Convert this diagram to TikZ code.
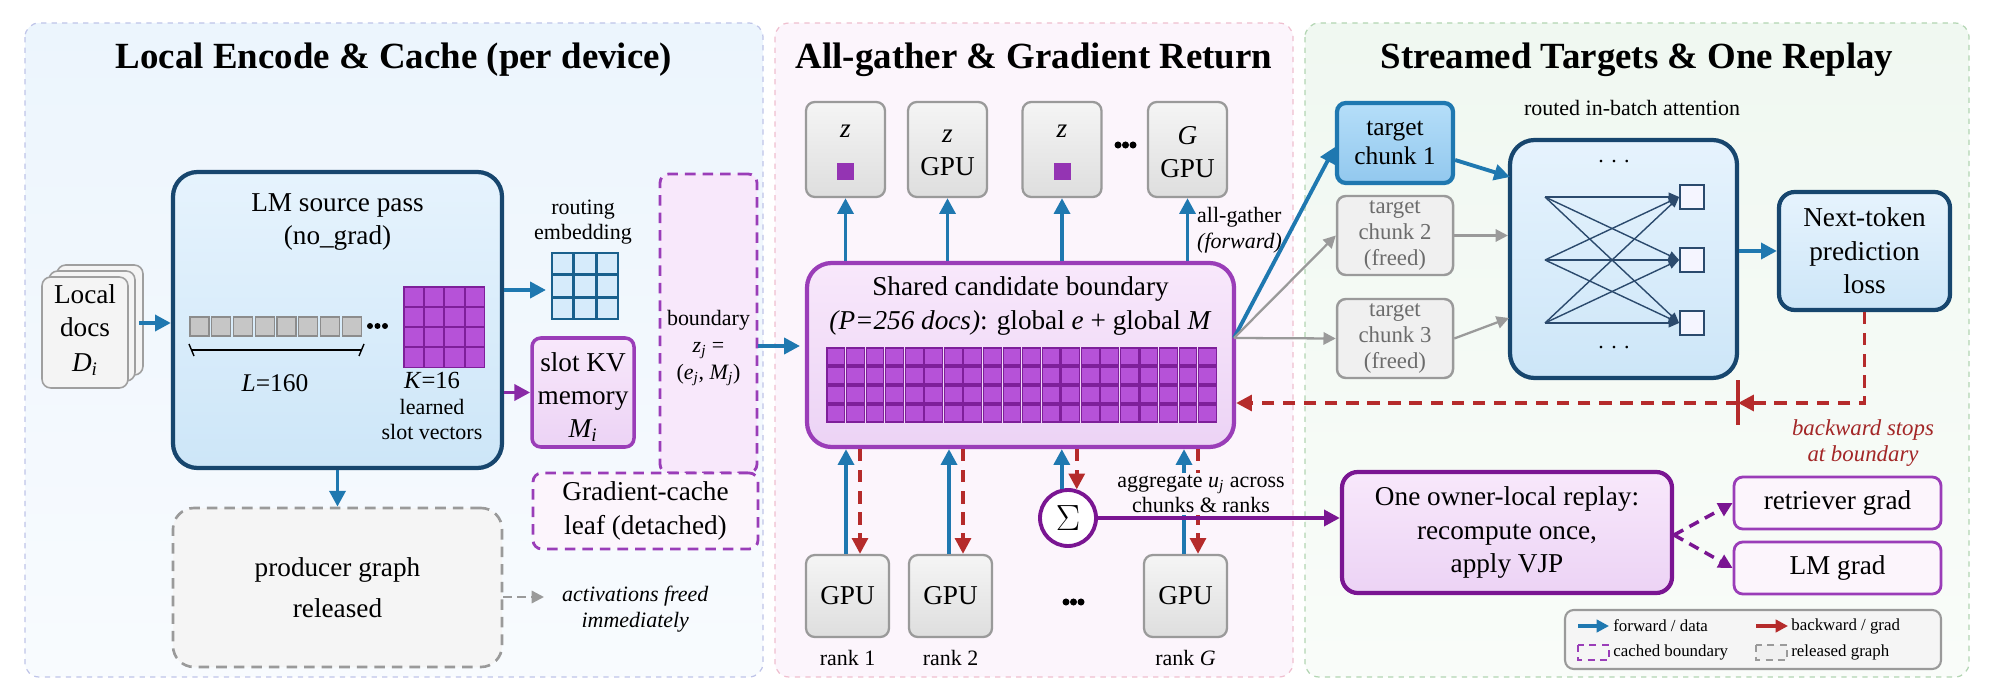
\documentclass[tikz,border=0pt]{standalone}
\usepackage{fontspec}
\setmainfont{Liberation Serif}
\usetikzlibrary{arrows.meta,calc}
\definecolor{fblue}{HTML}{1F78B0}
\definecolor{dblue}{HTML}{17466E}
\definecolor{netc}{HTML}{2B4A6D}
\definecolor{purp}{HTML}{9A3DB8}
\definecolor{dpurp}{HTML}{7A1592}
\definecolor{cellp}{HTML}{B652D8}
\definecolor{cellpb}{HTML}{7E1F9A}
\definecolor{bred}{HTML}{B52B2B}
\definecolor{gbord}{HTML}{9A9A9A}
\definecolor{lbtop}{HTML}{E6F3FD}
\definecolor{lbbot}{HTML}{CDE6F8}
\definecolor{cktop}{HTML}{B5DEF9}
\definecolor{ckbot}{HTML}{92C8EE}
\definecolor{pktop}{HTML}{F8E8FB}
\definecolor{pkbot}{HTML}{ECD3F5}
\definecolor{pan1t}{HTML}{ECF5FD}
\definecolor{pan1b}{HTML}{F8FBFE}
\definecolor{pan2}{HTML}{FCF5FC}
\definecolor{pan3t}{HTML}{F0F8F1}
\definecolor{pan3b}{HTML}{F9FCF9}
\definecolor{routc}{HTML}{D6EBFB}
\newcommand\ftitle{\fontsize{21}{24}\selectfont\bfseries}
\newcommand\fmain{\fontsize{15.5}{19}\selectfont}
\newcommand\fsmall{\fontsize{12.5}{14.5}\selectfont}
\newcommand\fleg{\fontsize{9.6}{11}\selectfont}
\def\px{0.02cm}
\tikzset{
 fwd/.style={draw=fblue,line width=2.2pt,-{Triangle[length=9pt,width=9pt]}},
 bwd/.style={draw=bred,line width=2pt,dash pattern=on 7pt off 5pt,-{Triangle[length=9pt,width=9pt]}},
 parr/.style={draw=cellpb!80!cellp,line width=2.2pt,-{Triangle[length=9pt,width=9pt]}},
 garr/.style={draw=gbord,line width=1.3pt,-{Triangle[length=7pt,width=7pt]}},
 bx/.style={rounded corners=5pt,inner sep=0pt,align=center},
 graybox/.style={bx,draw=gbord,line width=1.3pt,top color=gray!8,bottom color=gray!26},
 docc/.style={bx,draw=gray!75,line width=0.9pt,fill=gray!9},
 pcell/.style={fill=cellp,draw=cellpb,line width=0.6pt},
 rcell/.style={fill=routc,draw=fblue!80!black,line width=1pt},
 gcell/.style={fill=gray!45,draw=gray!90,line width=0.6pt},
}
\begin{document}
\begin{tikzpicture}[x=0.02cm,y=-0.02cm]
\useasboundingbox (0,0) rectangle (1990,692);
% panels
\draw[rounded corners=8pt,dashed,draw=cyan!30!blue!25,top color=pan1t,bottom color=pan1b,line width=0.7pt] (25,23) rectangle (763,677);
\draw[rounded corners=8pt,dashed,draw=purple!25,fill=pan2,line width=0.7pt] (775,23) rectangle (1293,677);
\draw[rounded corners=8pt,dashed,draw=green!45!black!30,top color=pan3t,bottom color=pan3b,line width=0.7pt] (1305,23) rectangle (1969,677);
\node[font=\ftitle] (t1) at (394,60) {Local Encode \& Cache (per device)};
\node[font=\ftitle] (t2) at (1034,60) {All-gather \& Gradient Return};
\node[font=\ftitle] (t3) at (1637,60) {Streamed Targets \& One Replay};

% docs
\node[docc,minimum width=86*\px,minimum height=110*\px] (d3) at (100,320) {};
\node[docc,minimum width=86*\px,minimum height=110*\px] (d2) at (92,326) {};
\node[docc,minimum width=86*\px,minimum height=111*\px] (d1) at (85,332.5) {};
\node[font=\fmain,align=center] (d1t) at (85,330) {Local\\docs\\[1pt]\textit{D\textsubscript{i}}};

% LM box
\node[bx,rounded corners=14pt,draw=dblue,line width=2.4pt,top color=lbtop,bottom color=lbbot,minimum width=329*\px,minimum height=296*\px] (lm) at (337.5,320) {};
\node[font=\fmain,align=center] (lmt) at (337.5,222) {LM source pass\\(no\_grad)};
\foreach \i in {0,...,7} \draw[gcell] ({190+\i*21.75},317) rectangle ++(19,19);
\foreach \i in {0,1,2} \fill ({370+\i*7.5},326) circle[radius=1.7pt];
\draw[line width=0.8pt] (191,350) -- (362,350);
\draw[line width=0.8pt] (189,344) -- (194,356);
\draw[line width=0.8pt] (364,344) -- (359,356);
\node[font=\fontsize{14.5}{16}\selectfont] (lt) at (275,383) {\textit{L}=160};
\foreach \i in {0,...,3} \foreach \j in {0,...,3} \draw[pcell] ({404+\i*20.4},{287+\j*20.2}) rectangle ++(19.5,19.5);
\node[font=\fsmall,align=center] (kt) at (432,406) {{\fontsize{14}{16}\selectfont \textit{K}=16}\\learned\\slot vectors};

% routing
\node[font=\fsmall,align=center] (rt) at (583,222) {routing\\embedding};
\foreach \i in {0,1,2} \foreach \j in {0,1,2} \draw[rcell] ({552+\i*22.4},{253+\j*22.4}) rectangle ++(21,21);
\coordinate (re) at (546,290);
\draw[fwd] (lm.east |- re) -- (re);

% slot
\node[bx,draw=purp,line width=2pt,top color=pktop,bottom color=pkbot,minimum width=102*\px,minimum height=109*\px] (slot) at (583,392.5) {};
\node[font=\fmain,align=center] (slt) at (583,397) {slot KV\\memory\\\textit{M\textsubscript{i}}};
\draw[parr] (lm.east |- slot.west) -- (slot.west);

% boundary + gradcache
\node[bx,draw=purp,line width=1.6pt,dash pattern=on 6pt off 4pt,fill=pktop,minimum width=97*\px,minimum height=299*\px] (bnd) at (708.5,323.5) {};
\node[font=\fsmall,align=center] (bt) at (708.5,348) {boundary\\[1pt]\textit{z\textsubscript{j}} =\\[1pt](\textit{e\textsubscript{j}}, \textit{M\textsubscript{j}})};
\node[bx,draw=purp,line width=1.6pt,dash pattern=on 6pt off 4pt,fill=pan2,minimum width=225*\px,minimum height=76*\px,font=\fmain] (gc) at (645.5,511) {Gradient-cache\\leaf (detached)};

% producer
\node[bx,rounded corners=12pt,draw=gbord,line width=1.5pt,dash pattern=on 6pt off 4pt,fill=gray!8,minimum width=329*\px,minimum height=159*\px,font=\fmain] (prod) at (337.5,587.5) {producer graph\\[4pt]released};
\draw[fwd] (lm.south) -- (prod.north);
\node[font=\fsmall\itshape,align=center,anchor=west] (act) at (556,609) {activations freed\\immediately};
\coordinate (ae) at (544,597);
\draw[garr,dash pattern=on 5pt off 3pt] (prod.east |- ae) -- (ae);

% docs arrow
\coordinate (da) at (139,323);
\draw[fwd] (da) -- (lm.west |- da);

% shared
\node[bx,rounded corners=14pt,draw=purp,line width=2.4pt,top color=pktop,bottom color=pkbot,minimum width=427*\px,minimum height=184*\px] (sh) at (1020.5,355) {};
\node[font=\fmain,align=center] (sht) at (1020.5,306) {Shared candidate boundary\\\textit{(P=256 docs)}: global \textit{e} + global \textit{M}};
\foreach \i in {0,...,19} \foreach \j in {0,...,3} \draw[pcell] ({827+\i*19.56},{348+\j*19}) rectangle ++(17.8,17);
\coordinate (bi) at (800,346);
\draw[fwd] (bnd.east |- bi) -- (bi);

% z boxes
\node[graybox,minimum width=79*\px,minimum height=95*\px] (z1) at (845.5,149.5) {};
\node[graybox,minimum width=79*\px,minimum height=95*\px] (z2) at (947.5,149.5) {};
\node[graybox,minimum width=79*\px,minimum height=95*\px] (z3) at (1062,149.5) {};
\node[graybox,minimum width=79*\px,minimum height=95*\px] (z4) at (1187.5,149.5) {};
\node[font=\fmain] (z1t) at (845.5,131) {\textit{z}};
\fill[cellpb!60!cellp] (837,163) rectangle ++(17,17);
\node[font=\fmain,align=center] (z2t) at (947.5,153) {\textit{z}\\GPU};
\node[font=\fmain] (z3t) at (1062,131) {\textit{z}};
\fill[cellpb!60!cellp] (1053.5,163) rectangle ++(17,17);
\node[font=\fmain,align=center] (z4t) at (1187.5,152) {\textit{G}\\GPU};
\foreach \i in {0,1,2} \fill ({1118+\i*7.5},145) circle[radius=2pt];
\foreach \z in {z1,z2,z3,z4} \draw[fwd] (\z.south |- sh.north) -- (\z.south);
\node[font=\fsmall,align=left,anchor=west] (ag) at (1191,230) {all-gather\\\textit{(forward)}};

% GPU ranks
\node[graybox,minimum width=83*\px,minimum height=82*\px,font=\fmain] (g1) at (847.5,596) {GPU};
\node[graybox,minimum width=83*\px,minimum height=82*\px,font=\fmain] (g2) at (950.5,596) {GPU};
\node[graybox,minimum width=83*\px,minimum height=82*\px,font=\fmain] (g3) at (1185.5,596) {GPU};
\node[font=\fsmall] (r1) at (847.5,658) {rank 1};
\node[font=\fsmall] (r2) at (950.5,658) {rank 2};
\node[font=\fsmall] (r3) at (1185.5,658) {rank \textit{G}};
\foreach \i in {0,1,2} \fill ({1066+\i*7.5},602) circle[radius=2pt];
\foreach \g in {g1,g2,g3} {
 \draw[fwd] ($(\g.north)+(-1.5,0)$) -- ($(\g.north |- sh.south)+(-1.5,0)$);
 \draw[bwd] ($(\g.north |- sh.south)+(12.5,0)$) -- ($(\g.north)+(12.5,0)$);
}
\node[circle,draw=dpurp,line width=2.2pt,fill=white,minimum size=56*\px,inner sep=0pt,font=\fontsize{22}{24}\selectfont] (sig) at (1068,518) {$\Sigma$};
\draw[fwd] (sig.102) -- (sig.102 |- sh.south);
\draw[bwd] (sig.73 |- sh.south) -- (sig.73);
\node[font=\fsmall,align=center,fill=pan2,inner sep=1pt] (agg) at (1201,494) {aggregate \textit{u\textsubscript{j}} across\\chunks \& ranks};

% replay
\node[bx,rounded corners=9pt,draw=dpurp,line width=2.4pt,top color=pktop,bottom color=pkbot,minimum width=330*\px,minimum height=121*\px,font=\fmain] (rep) at (1507,532.5) {One owner-local replay:\\recompute once,\\apply VJP};
\draw[draw=dpurp,line width=2.2pt,-{Triangle[length=9pt,width=9pt]}] (sig.east) -- (rep.west |- sig.east);
\node[bx,draw=purp,line width=1.6pt,fill=pan2,minimum width=207*\px,minimum height=52*\px,font=\fmain] (retr) at (1837.5,503) {retriever grad};
\node[bx,draw=purp,line width=1.6pt,fill=pan2,minimum width=207*\px,minimum height=52*\px,font=\fmain] (lmg) at (1837.5,568) {LM grad};
\coordinate (rs) at (1674,535);
\draw[draw=dpurp,line width=2pt,dash pattern=on 6pt off 4pt,-{Triangle[length=8pt,width=8pt]}] (rs) -- (retr.west);
\draw[draw=dpurp,line width=2pt,dash pattern=on 6pt off 4pt,-{Triangle[length=8pt,width=8pt]}] (rs) -- (lmg.west);

% chunks
\node[bx,draw=fblue,line width=2.4pt,top color=cktop,bottom color=ckbot,minimum width=116*\px,minimum height=80*\px,font=\fontsize{14.5}{16}\selectfont] (c1) at (1395,143) {target\\chunk 1};
\node[bx,draw=gbord,line width=1.4pt,fill=gray!12,text=gray!85!black,minimum width=116*\px,minimum height=79*\px,font=\fontsize{13}{15}\selectfont] (c2) at (1395,235.5) {target\\chunk 2\\(freed)};
\node[bx,draw=gbord,line width=1.4pt,fill=gray!12,text=gray!85!black,minimum width=116*\px,minimum height=79*\px,font=\fontsize{13}{15}\selectfont] (c3) at (1395,338.5) {target\\chunk 3\\(freed)};
\coordinate (fan) at (1234,338);
\draw[fwd] (fan) -- ($(c1.west)+(0,4)$);
\draw[garr] (fan) -- (c2.west);
\draw[garr] (fan) -- (c3.west);

% attention
\node[font=\fsmall] (att-t) at (1632,108) {routed in-batch attention};
\node[bx,rounded corners=14pt,draw=dblue,line width=2.4pt,top color=lbtop,bottom color=lbbot,minimum width=227*\px,minimum height=238*\px] (att) at (1623.5,259) {};
\node[font=\fsmall] (ad1) at (1614,162) {. . .};
\node[font=\fsmall] (ad2) at (1614,348) {. . .};
\foreach \k/\y in {1/197,2/260,3/323} {
 \coordinate (L\k) at (1545,\y);
 \node[draw=netc,line width=1pt,fill=blue!4,minimum size=24*\px,inner sep=0pt] (R\k) at (1692,\y) {};
}
\foreach \a in {1,2,3} \foreach \b in {1,2,3} \draw[draw=netc,line width=0.8pt,-{Triangle[length=6pt,width=5pt]}] (L\a) -- (R\b.west);
\draw[fwd] ($(c1.east)+(0,17)$) -- (1510,177);
\draw[garr] (c2.east) -- (att.west |- c2.east);
\draw[garr] (c3.east) -- (1509,318);
\node[bx,rounded corners=9pt,draw=dblue,line width=2.4pt,top color=lbtop,bottom color=lbbot,minimum width=171*\px,minimum height=118*\px,font=\fmain] (nt) at (1864.5,251) {Next-token\\prediction\\loss};
\draw[fwd] (att.east |- nt.west) -- (nt.west);

% backward
\coordinate (yb) at (0,403);
\coordinate (stp) at (1738,403);
\draw[bwd,-] (nt.south) -- (nt.south |- yb) -- ($(stp)+(10,0)$);
\draw[bwd,-{Triangle[length=9pt,width=9pt]}] ($(stp)+(12,0)$) -- (stp);
\draw[bwd] (stp) -- (sh.east |- yb);
\draw[draw=bred,line width=2.2pt] (1738,380) -- (1738,425);
\node[font=\fontsize{13}{15}\selectfont\itshape,text=bred!90!black,align=center] (bs) at (1863,443) {backward stops\\at boundary};

% legend
\node[bx,draw=gbord,line width=1.2pt,fill=gray!8,minimum width=376*\px,minimum height=59*\px] (leg) at (1753,639.5) {};
\coordinate (l1) at (1578,626); \coordinate (l1e) at (1609,626);
\draw[fwd,line width=1.8pt,-{Triangle[length=7pt,width=7pt]}] (l1) -- (l1e);
\node[font=\fleg,anchor=west,inner sep=0pt] (lt1) at (1613,626) {forward / data};
\coordinate (l2) at (1756,626); \coordinate (l2e) at (1788,626);
\draw[draw=bred,line width=1.8pt,-{Triangle[length=7pt,width=7pt]}] (l2) -- (l2e);
\node[font=\fleg,anchor=west,inner sep=0pt] (lt2) at (1791,626) {backward / grad};
\draw[draw=purp,line width=1.4pt,dash pattern=on 4pt off 3pt] (1578,645) rectangle (1609,660);
\node[font=\fleg,anchor=west,inner sep=0pt] (lt3) at (1613,652) {cached boundary};
\draw[draw=gbord,line width=1.4pt,dash pattern=on 4pt off 3pt,fill=gray!12] (1756,645) rectangle (1787,660);
\node[font=\fleg,anchor=west,inner sep=0pt] (lt4) at (1791,652) {released graph};
\end{tikzpicture}
\end{document}
